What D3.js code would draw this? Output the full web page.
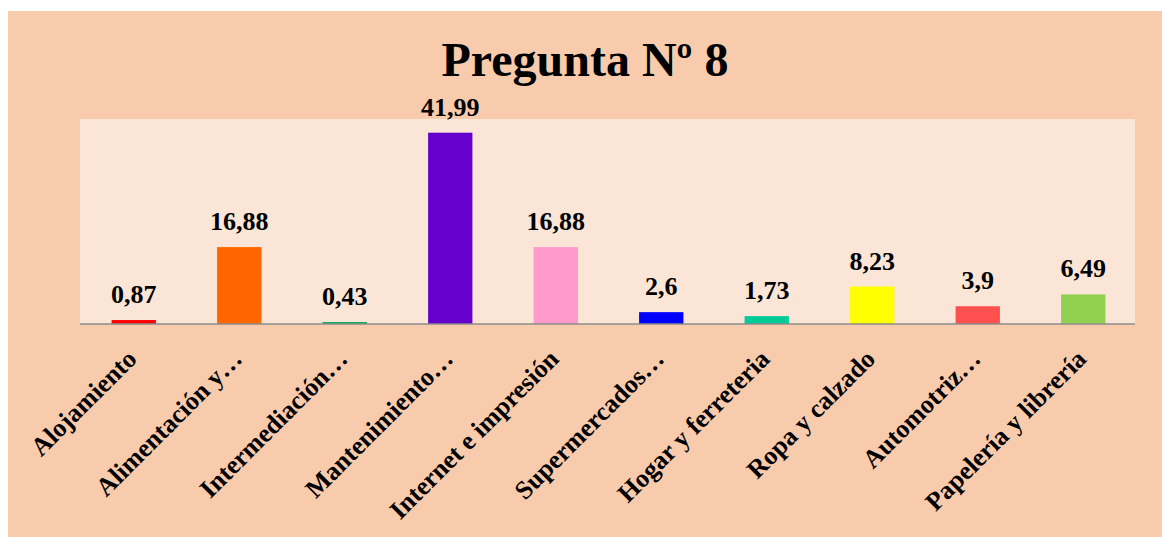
<!DOCTYPE html>
<html>
<head>
<meta charset="utf-8">
<script src="https://cdn.jsdelivr.net/npm/d3@7"></script>
<style>
  body { margin: 0; background: #fff; }
  svg { display: block; }
</style>
</head>
<body>
<svg id="drawspace" width="1162" height="537"></svg>
<script>
const categories = [
  "Alojamiento",
  "Alimentación y…",
  "Intermediación…",
  "Mantenimiento…",
  "Internet e impresión",
  "Supermercados…",
  "Hogar y ferreteria",
  "Ropa y calzado",
  "Automotriz…",
  "Papelería y librería"
];
const values = [0.87, 16.88, 0.43, 41.99, 16.88, 2.6, 1.73, 8.23, 3.9, 6.49];
const valueLabels = ["0,87", "16,88", "0,43", "41,99", "16,88", "2,6", "1,73", "8,23", "3,9", "6,49"];
const barColors = ["#FF0000", "#FF6600", "#00B050", "#6600CC", "#FF99CC",
  "#0000FF", "#00CC99", "#FFFF00", "#FF5050", "#92D050"];

let drawspace = d3.select("#drawspace");
const font = "'Liberation Serif', 'Times New Roman', serif";

// outer chart area
drawspace.append("rect")
  .attr("x", 8).attr("y", 11)
  .attr("width", 1162 - 8).attr("height", 537 - 11)
  .attr("fill", "#F8CBAD");

const plot = { left: 81, top: 119, right: 1136, bottom: 324 };

drawspace.append("rect")
  .attr("x", plot.left - 1).attr("y", plot.top)
  .attr("width", plot.right - plot.left)
  .attr("height", plot.bottom - plot.top)
  .attr("fill", "#FBE5D6");

drawspace.append("text")
  .attr("x", 585)
  .attr("y", 76)
  .attr("text-anchor", "middle")
  .attr("font-family", font)
  .attr("font-weight", "bold")
  .attr("font-size", "48px")
  .text("Pregunta Nº 8");

var xScale = d3.scaleBand()
  .domain(categories)
  .range([plot.left, plot.right])
  .paddingInner(0.58)
  .paddingOuter(0.29);

var yScale = d3.scaleLinear()
  .domain([0, 45])
  .range([plot.bottom, plot.top]);

var data = categories.map((c, i) => ({ cat: c, v: values[i], lab: valueLabels[i], col: barColors[i] }));

drawspace.selectAll(".bar")
  .data(data)
  .enter()
  .append("rect")
  .attr("class", "bar")
  .attr("x", d => xScale(d.cat))
  .attr("y", d => yScale(d.v))
  .attr("width", xScale.bandwidth())
  .attr("height", d => yScale(0) - yScale(d.v))
  .attr("fill", d => d.col);

drawspace.selectAll(".val")
  .data(data)
  .enter()
  .append("text")
  .attr("class", "val")
  .attr("x", d => xScale(d.cat) + xScale.bandwidth() / 2)
  .attr("y", d => yScale(d.v) - 17)
  .attr("text-anchor", "middle")
  .attr("font-family", font)
  .attr("font-weight", "bold")
  .attr("font-size", "26px")
  .text(d => d.lab);

// x axis
var xAxis = drawspace.append("g")
  .attr("transform", "translate(0," + plot.bottom + ")")
  .call(d3.axisBottom(xScale).tickSize(0).tickPadding(0));

xAxis.select(".domain")
  .attr("stroke", "#8C8C8C")
  .attr("stroke-width", 1.5)
  .attr("d", "M" + (plot.left - 1) + ",0H" + (plot.right - 1));

xAxis.selectAll("text")
  .attr("font-family", font)
  .attr("font-weight", "bold")
  .attr("font-size", "26px")
  .attr("fill", "#000")
  .style("text-anchor", "end")
  .attr("x", 0)
  .attr("y", 0)
  .attr("dy", "0.35em")
  .attr("transform", "translate(-2,30) rotate(-45)");
</script>
</body>
</html>
